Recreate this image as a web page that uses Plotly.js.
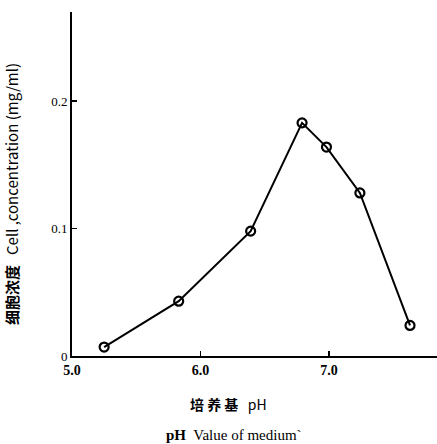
<!DOCTYPE html>
<html>
<head>
<meta charset="utf-8">
<script src="https://cdn.plot.ly/plotly-3.0.1.min.js"></script>
<style>html,body{margin:0;padding:0;background:#fff;}#chart{width:437px;height:444px;}</style>
</head>
<body>
<div id="chart"></div>
<script>
var phValues = [5.25, 5.83, 6.39, 6.79, 6.98, 7.24, 7.63];
var cellConc = [0.007, 0.043, 0.098, 0.183, 0.164, 0.128, 0.024];
var xTickVals = [5.0, 6.0, 7.0];
var xTickText = ['5.0', '6.0', '7.0'];
var yTickVals = [0, 0.1, 0.2];
var yTickText = ['0', '0.1', '0.2'];

var serif = '"Liberation Serif", "DejaVu Serif", serif';
var cjk = '"Noto Sans CJK SC", "DejaVu Sans", sans-serif';

var trace = {
  x: phValues, y: cellConc, type: 'scatter', mode: 'lines+markers',
  line: {color: '#000', width: 2},
  marker: {symbol: 'circle-open', size: 9, color: '#000', line: {width: 2.2, color: '#000'}},
  hoverinfo: 'skip'
};

var layout = {
  width: 437, height: 444,
  margin: {l: 72, r: 0, t: 12, b: 88},
  paper_bgcolor: '#fff', plot_bgcolor: '#fff',
  showlegend: false,
  xaxis: {
    range: [5.0, 7.84], tickvals: xTickVals, ticktext: xTickText,
    showline: true, linecolor: '#000', linewidth: 2, ticks: 'inside', ticklen: 5, tickwidth: 1.5, tickcolor: '#000',
    showgrid: false, zeroline: false,
    tickfont: {family: serif, size: 14, color: '#000', weight: 'bold'}
  },
  yaxis: {
    range: [0, 0.27], tickvals: yTickVals, ticktext: yTickText,
    showline: true, linecolor: '#000', linewidth: 2, ticks: 'inside', ticklen: 5, tickwidth: 1.5, tickcolor: '#000',
    showgrid: false, zeroline: false,
    tickfont: {family: serif, size: 13, color: '#000'}
  },
  annotations: [
    {xref: 'paper', yref: 'paper', x: -0.165, y: 0.47, xanchor: 'center', yanchor: 'middle', textangle: -90, showarrow: false,
     text: '<b>细胞浓度</b>   Cell ,concentration (mg/ml)', font: {family: cjk, size: 15, color: '#000'}},
    {xref: 'paper', yref: 'paper', x: 0.43, y: -0.14, xanchor: 'center', yanchor: 'middle', showarrow: false,
     text: '<b>培 养 基</b>   pH', font: {family: cjk, size: 14, color: '#000'}},
    {xref: 'paper', yref: 'paper', x: 0.445, y: -0.23, xanchor: 'center', yanchor: 'middle', showarrow: false,
     text: '<b>pH</b>  Value of medium`', font: {family: serif, size: 15, color: '#000'}}
  ]
};

Plotly.newPlot('chart', [trace], layout, {displayModeBar: false, staticPlot: true});
</script>
</body>
</html>
